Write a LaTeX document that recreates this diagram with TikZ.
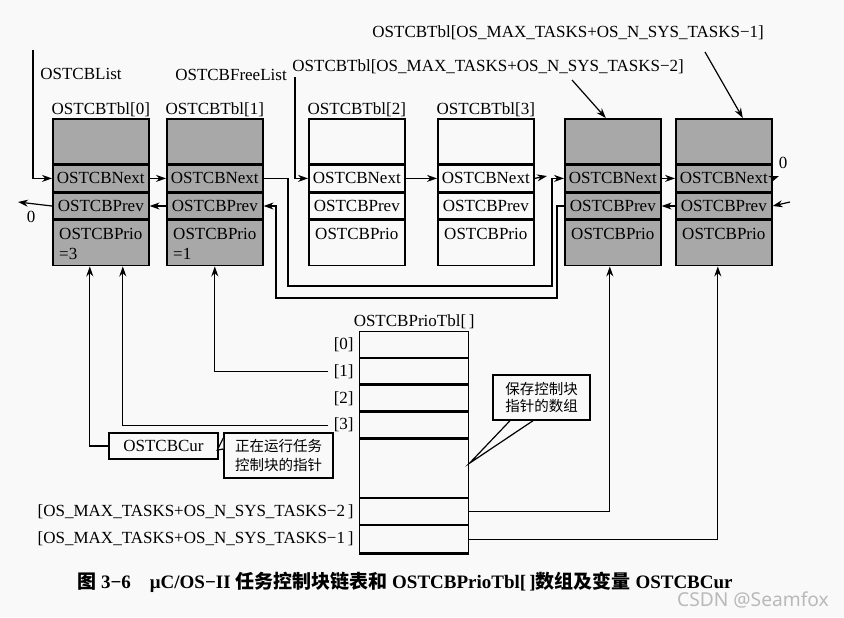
\documentclass[tikz,border=0pt]{standalone}
\usepackage{fontspec}
\setmainfont{Liberation Serif}
\newfontfamily\cjk{Noto Sans CJK SC}
\newfontfamily\markfont{Noto Sans}
\usetikzlibrary{arrows.meta, positioning}
\definecolor{tcbgray}{gray}{0.66}
\definecolor{paper}{gray}{0.975}

\begin{document}
\begin{tikzpicture}[x=0.5pt, y=-0.5pt,
    every node/.style={font=\fontsize{8.5}{10}\selectfont},
    cell/.style={draw, line width=0.8pt, minimum width=48pt, minimum height=13pt, inner sep=0pt},
    slot/.style={draw, line width=0.7pt, minimum width=54.5pt, minimum height=12.75pt, inner sep=0pt},
    link/.style={line width=0.6pt, -{Stealth[length=5pt,width=3.5pt]}},
    wire/.style={line width=0.6pt},
    note/.style={draw, line width=0.7pt, fill=paper, inner sep=1.5pt, align=left, font=\cjk\fontsize{7.25}{9.5}\selectfont}]

    \path[use as bounding box, fill=paper] (0,0) rectangle (844,617);

    % Task control blocks
    \foreach \i/\x/\c/\prio in {0/52/tcbgray/{OSTCBPrio\\=3}, 1/166/tcbgray/{OSTCBPrio\\=1},
                               2/308/paper/OSTCBPrio, 3/437/paper/OSTCBPrio,
                               4/564/tcbgray/OSTCBPrio, 5/675/tcbgray/OSTCBPrio} {
        \node[cell, fill=\c, minimum height=22.5pt, anchor=north west] (h\i) at (\x,118) {};
        \node[cell, fill=\c, anchor=north] (n\i) at (h\i.south) {OSTCBNext};
        \node[cell, fill=\c, anchor=north] (p\i) at (n\i.south) {OSTCBPrev};
        \node[cell, fill=\c, minimum height=22.5pt, anchor=north] (r\i) at (p\i.south) {};
        \node[anchor=north, align=left, inner sep=1pt] at ([yshift=-3pt]r\i.north) {\prio};
    }
    \foreach \i in {0,...,3}
        \node[anchor=south, inner sep=0.5pt] (tl\i) at (h\i.north) {OSTCBTbl[\i]};

    % Last two blocks of the table
    \node[anchor=west, inner sep=0pt] (tlA) at (292,67) {OSTCBTbl[OS\_MAX\_TASKS+OS\_N\_SYS\_TASKS−2]};
    \node[anchor=west, inner sep=0pt] (tlB) at (372,33) {OSTCBTbl[OS\_MAX\_TASKS+OS\_N\_SYS\_TASKS−1]};
    \coordinate (tlAfoot) at (572,80);
    \coordinate (tlBfoot) at (705,52);
    \draw[link] (tlAfoot) -- ([xshift=-3.5pt]h4.north);
    \draw[link] (tlBfoot) -- ([xshift=9.5pt]h5.north);

    % List heads
    \node[inner sep=0pt] (lstlab) at (81,74) {OSTCBList};
    \node[inner sep=0pt] (freelab) at (231,75) {OSTCBFreeList};
    \coordinate (lst) at (33,50);
    \coordinate (free) at (295,77);
    \draw[link] (lst) |- (n0.west);
    \draw[link] (free) |- (n2.west);

    % Next / prev links
    \draw[link] (n0.east) -- (n1.west);
    \draw[link] (p1.west) -- (p0.east);
    \draw[link] (n2.east) -- (n3.west);
    \draw[link] (n4.east) -- (n5.west);
    \draw[link] (p5.west) -- (p4.east);
    \coordinate (n3end) at (547,176);
    \draw[link] (n3.east) -- (n3end);

    % Null ends
    \coordinate (nilL) at (18,202);
    \draw[link] (p0.west) -- (nilL);
    \node (zeroL) at (31,217) {0};
    \coordinate (nilR) at (779,176);
    \draw[link] (n5.east) -- (nilR);
    \node (zeroR) at (783,163) {0};
    \coordinate (inR) at (790,202);
    \draw[link] (inR) -- (p5.east);

    % Links going round the free blocks
    \coordinate (nxA) at (288,286);
    \coordinate (nxB) at (552,286);
    \draw[link] (n1.east) -| (nxA) -- (nxB) |- (n4.west);
    \coordinate (pvA) at (557,298);
    \coordinate (pvB) at (276,298);
    \draw[link] (p4.west) -| (pvA) -- (pvB) |- (p1.east);

    % Priority table
    \node[slot, anchor=north west] (a0) at (359,331) {};
    \foreach \i/\j in {1/0,2/1,3/2}
        \node[slot, anchor=north] (a\i) at (a\j.south) {};
    \node[slot, anchor=north, minimum height=29pt] (agap) at (a3.south) {};
    \node[slot, anchor=north] (am2) at (agap.south) {};
    \node[slot, anchor=north, minimum height=13.5pt] (am1) at (am2.south) {};
    \draw[line width=1.4pt] (am1.south west) -- (am1.south east);
    \node[anchor=south, inner sep=1pt] (tbllab) at (a0.north) {OSTCBPrioTbl[\,]};

    \foreach \i in {0,...,3}
        \node[anchor=east, inner sep=2.5pt] (ix\i) at (a\i.west) {[\i]};
    \node[anchor=east, inner sep=2.5pt] (ixA) at (am2.west) {[OS\_MAX\_TASKS+OS\_N\_SYS\_TASKS−2\,]};
    \node[anchor=east, inner sep=2.5pt] (ixB) at (am1.west) {[OS\_MAX\_TASKS+OS\_N\_SYS\_TASKS−1\,]};

    \draw[link] (ix1.west) -| (r1.south);
    \draw[link] (ix3.west) -| ([xshift=11pt]r0.south);
    \draw[link] (am2.east) -| ([xshift=-1.5pt]r4.south);
    \draw[link] (am1.east) -| ([xshift=-3pt]r5.south);

    % Current task
    \node[draw, line width=0.7pt, minimum width=54.5pt, minimum height=13pt, inner sep=0pt] (cur) at (163.5,446) {OSTCBCur};
    \draw[link] (cur.west) -| ([xshift=-5.5pt]r0.south);

    % Notes
    \node[note, minimum width=54.5pt, minimum height=22.5pt] (curnote) at (278.5,455.5) {正在运行任务\\控制块的指针};
    \draw[wire, fill=paper] ([yshift=8.75pt]curnote.west) -- ([xshift=-3pt,yshift=2.75pt]curnote.west) -- ([yshift=3.25pt]curnote.west);
    \node[note, minimum width=48.5pt, minimum height=22.5pt, font=\cjk\fontsize{7.25}{8.2}\selectfont] (arrnote) at (541.5,397.5) {保存控制块\\指针的数组};
    \draw[wire] ([xshift=-15.75pt]arrnote.south) -- ([yshift=2.5pt]agap.east) -- ([xshift=-4.25pt]arrnote.south);

    % Caption
    \node[font=\bfseries\fontsize{9.5}{11}\selectfont] (caption) at (405,582)
        {{\cjk 图} 3−6\quad μC/OS−II {\cjk 任务控制块链表和} OSTCBPrioTbl[\,]{\cjk 数组及变量} OSTCBCur};
    \node[font=\markfont\fontsize{9.6}{11}\selectfont, text=gray!55] (mark) at (753,600) {CSDN @Seamfox};
\end{tikzpicture}
\end{document}
